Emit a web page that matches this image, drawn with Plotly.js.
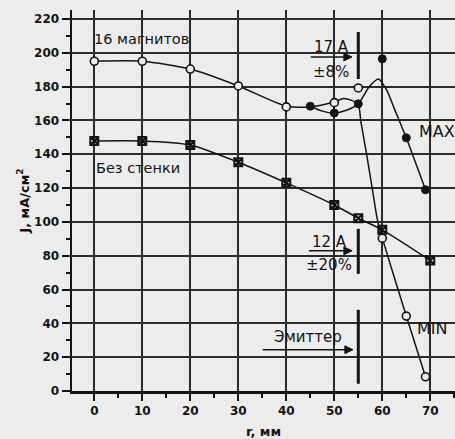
<!DOCTYPE html>
<html>
<head>
<meta charset="utf-8">
<script src="https://cdn.plot.ly/plotly-3.0.1.min.js"></script>
<style>
  html, body { margin: 0; padding: 0; background: #ececec; }
  #chart { width: 455px; height: 439px; }
</style>
</head>
<body>
<div id="chart"></div>
<script>
// Current density J (mA/cm^2) versus radius r (mm)

// Measured points: 16 magnets (open circles)
const magR = [0, 10, 20, 30, 40, 50, 55, 60, 65, 69];
const magJ = [195, 195, 190.4, 180.4, 168, 170.5, 179.2, 90.4, 44.3, 8.4];

// Measured points: MAX branch (filled circles)
const maxR = [45, 50, 55, 60, 65, 69];
const maxJ = [168.4, 164.4, 169.8, 196.4, 149.7, 119];

// Measured points: without wall (boxed crosses)
const wallR = [0, 10, 20, 30, 40, 50, 55, 60, 70];
const wallJ = [147.9, 147.9, 145.5, 135.3, 123.1, 110, 102.2, 95.3, 77.2];

// Hand-drawn trend curves
const minCurveR = [0, 10, 20, 30, 40, 45, 50, 51.9, 53.5, 55, 55.5, 56.7, 57.9, 59, 60, 65, 69];
const minCurveJ = [195, 195, 190.4, 180.4, 168.5, 168, 171, 173, 172, 169.5, 160, 140.5, 120, 101, 90.4, 44.3, 8.4];
const maxCurveR = [45, 47.5, 50, 52.5, 55, 57.3, 59.2, 60.9, 62.5, 65, 67, 69];
const maxCurveJ = [168.4, 165.5, 164.4, 166, 169.8, 180, 184.5, 178, 167, 149.7, 134.5, 119];

// Axis ticks
const xTicks = [0, 10, 20, 30, 40, 50, 60, 70];
const yTicks = [0, 20, 40, 60, 80, 100, 120, 140, 160, 180, 200, 220];

const ink = '#141414';
const paper = '#ececec';
const fam = 'DejaVu Sans, Liberation Sans, Arial, sans-serif';

const traces = [
  { x: minCurveR, y: minCurveJ, mode: 'lines', line: { color: ink, width: 1.5, shape: 'spline', smoothing: 0.7 }, hoverinfo: 'skip' },
  { x: maxCurveR, y: maxCurveJ, mode: 'lines', line: { color: ink, width: 1.5, shape: 'spline', smoothing: 0.7 }, hoverinfo: 'skip' },
  { x: wallR, y: wallJ, mode: 'lines+markers', name: 'Без стенки',
    line: { color: ink, width: 1.5, shape: 'spline', smoothing: 0.6 },
    marker: { symbol: 'square-x-open', size: 8, color: ink, line: { color: ink, width: 2 } } },
  { x: magR, y: magJ, mode: 'markers', name: '16 магнитов',
    marker: { symbol: 'circle', size: 8, color: paper, line: { color: ink, width: 1.6 } } },
  { x: maxR, y: maxJ, mode: 'markers', name: 'MAX',
    marker: { symbol: 'circle', size: 8, color: ink, line: { color: ink, width: 1 } } }
];

function label(text, x, y, size, xanchor) {
  return { text: text, x: x, y: y, xref: 'x', yref: 'y', showarrow: false,
           xanchor: xanchor || 'center', yanchor: 'middle',
           font: { family: fam, size: size, color: ink } };
}
// Right-pointing arrow: shaft plus a small filled head
function arrowShapes(x0, x1, y) {
  const hx = 1.7, hy = 2.3;
  return [
    { type: 'line', xref: 'x', yref: 'y', x0: x0, x1: x1 - hx * 0.6, y0: y, y1: y,
      line: { color: ink, width: 1.6 } },
    { type: 'path', xref: 'x', yref: 'y',
      path: 'M ' + x1 + ',' + y + ' L ' + (x1 - hx) + ',' + (y + hy) + ' L ' + (x1 - hx) + ',' + (y - hy) + ' Z',
      fillcolor: ink, line: { color: ink, width: 1 } }
  ];
}
function bar(x, y0, y1) {
  return { type: 'line', xref: 'x', yref: 'y', x0: x, x1: x, y0: y0, y1: y1,
           line: { color: ink, width: 3 } };
}

const layout = {
  width: 455, height: 439,
  margin: { l: 72, r: 0, t: 10, b: 48 },
  paper_bgcolor: paper, plot_bgcolor: paper,
  showlegend: false,
  xaxis: {
    range: [-4.65, 75.15], tickvals: xTicks,
    ticks: 'outside', ticklen: 7, tickwidth: 2, tickcolor: ink,
    showline: true, linewidth: 2.5, linecolor: ink,
    showgrid: true, gridcolor: '#2b2b2b', gridwidth: 2, zeroline: false,
    minor: { dtick: 5, tick0: 0, ticks: 'outside', ticklen: 4, tickwidth: 2, tickcolor: ink, showgrid: false },
    tickfont: { family: fam, size: 12, color: ink, weight: 'bold' },
    title: { text: 'r, мм', standoff: 10, font: { family: fam, size: 13, color: ink, weight: 'bold' } }
  },
  yaxis: {
    range: [0, 225.3], tickvals: yTicks,
    ticks: 'outside', ticklen: 8, tickwidth: 2, tickcolor: ink,
    showline: true, linewidth: 2.5, linecolor: ink,
    showgrid: true, gridcolor: '#2b2b2b', gridwidth: 2, zeroline: false,
    minor: { dtick: 10, tick0: 0, ticks: 'outside', ticklen: 4, tickwidth: 2, tickcolor: ink, showgrid: false },
    tickfont: { family: fam, size: 12, color: ink, weight: 'bold' },
    title: { text: 'J, мА/см<sup>2</sup>', standoff: 2, font: { family: fam, size: 13, color: ink, weight: 'bold' } }
  },
  annotations: [
    label('16 магнитов', 9.8, 208.2, 14.5),
    label('Без стенки', 9.2, 132, 14.5),
    label('17 A', 49.5, 203.5, 15),
    label('±8%', 49.3, 188.7, 15),
    label('MAX', 67.2, 153.2, 16, 'left'),
    label('12 A', 49.1, 88.2, 15),
    label('±20%', 48.9, 74.6, 15),
    label('Эмиттер', 44.5, 32.1, 15),
    label('MIN', 70.5, 36.8, 16)
  ],
  shapes: [
    bar(55, 184.5, 212.3),
    bar(55, 69.3, 95.9),
    bar(55, 4.3, 48)
  ].concat(arrowShapes(45.1, 53.7, 197.5), arrowShapes(44.7, 53.7, 82.9), arrowShapes(35.1, 53.9, 24.4))
};

Plotly.newPlot('chart', traces, layout, { displayModeBar: false, staticPlot: true });
</script>
</body>
</html>
